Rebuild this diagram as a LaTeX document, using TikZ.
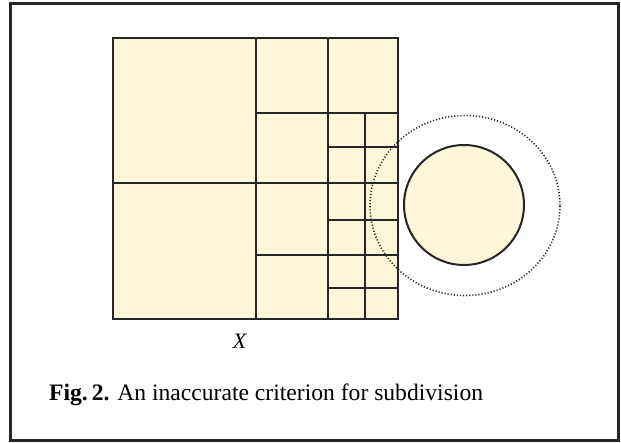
\documentclass[tikz,border=0pt]{standalone}
\usepackage{fontspec}
\setmainfont{Liberation Serif}
\usepackage{xcolor}
\usepackage{tikz}
\usetikzlibrary{positioning, shapes.geometric}
\definecolor{cream}{HTML}{FDF6D8}
\definecolor{ink}{HTML}{262626}

\begin{document}
\begin{tikzpicture}[
          x=1pt, y=-1pt,
          grid/.style={draw=ink, line width=2pt},
          frame/.style={draw=ink, line width=3pt},
          halo/.style={ellipse, draw=ink, line width=1.6pt, dash pattern=on 1.1pt off 2pt,
            minimum width=190pt, minimum height=180pt, inner sep=0pt},
          blob/.style={circle, draw=ink, fill=cream, line width=2pt,
            minimum size=120pt, inner sep=0pt}
        ]
          \useasboundingbox (0,0) rectangle (621,442);
          \draw[frame] (10.5,3.5) rectangle (618,440.5);
          % the cell and its subdivisions
          \filldraw[grid, fill=cream] (112.7,38.3) rectangle (397.7,319);
          \draw[grid] (256,38.3) -- (256,319);
          \draw[grid] (112.7,183) -- (397.7,183);
          \draw[grid] (328,38.3) -- (328,319);
          \draw[grid] (256,113) -- (397.7,113);
          \draw[grid] (256,254.7) -- (397.7,254.7);
          \draw[grid] (364.5,113) -- (364.5,319);
          \foreach \yy in {147,219.5,288}
            \draw[grid] (328,\yy) -- (397.7,\yy);
          % object and its neighbourhood
          \node[blob] (obj) at (464,205) {};
          \node[halo] (near) at (465,205.5) {};
          \node[anchor=base, inner sep=0pt] (lbl) at (239.5,348.7) {\fontsize{22}{26}\selectfont\itshape X};
          \node[anchor=base west, inner sep=0pt] (cap) at (49,400)
            {\fontsize{23.6}{28}\selectfont\textbf{Fig.\,2.} An inaccurate criterion for subdivision};
        \end{tikzpicture}
\end{document}
